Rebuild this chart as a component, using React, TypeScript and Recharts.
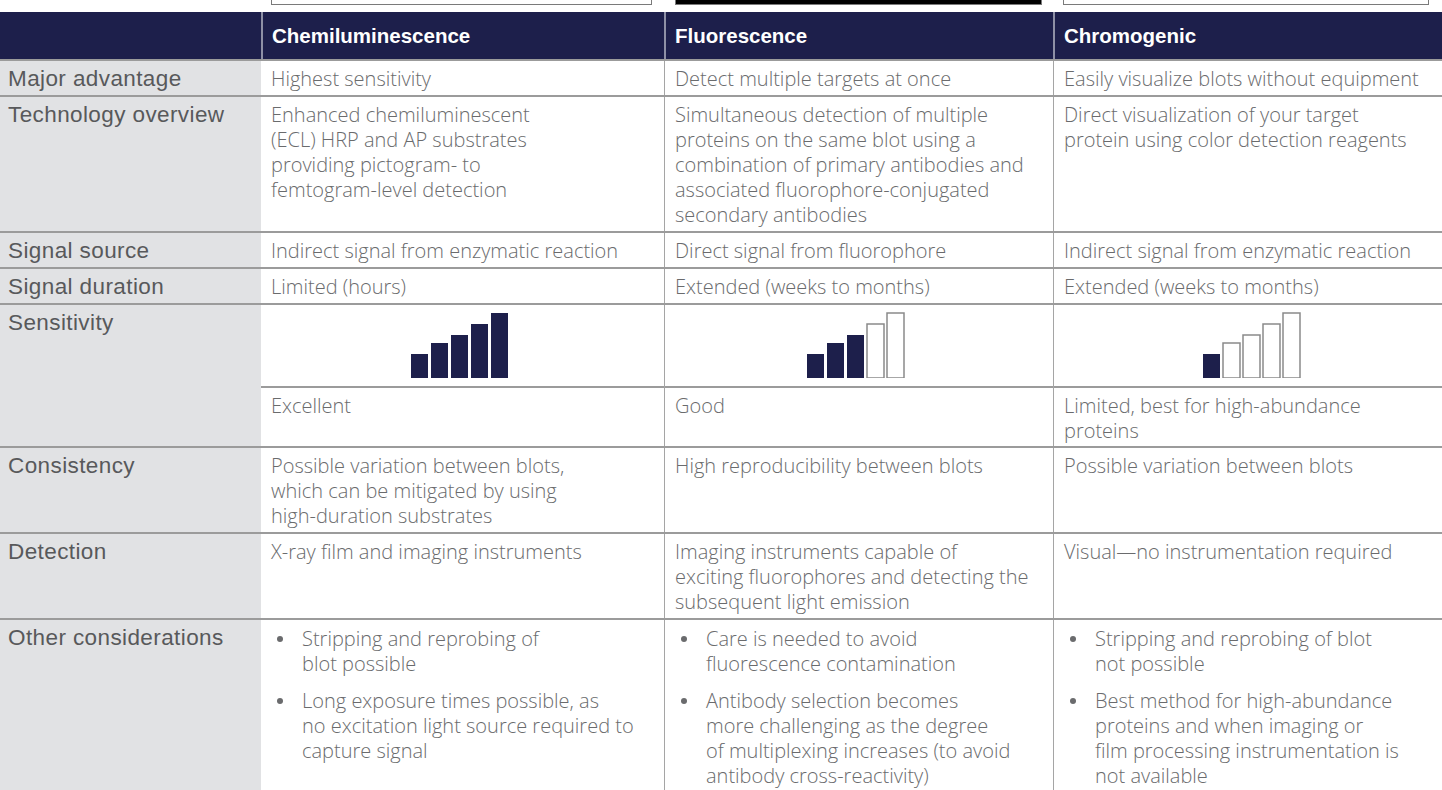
import React from 'react';
import { BarChart, Bar, Cell, XAxis, YAxis } from 'recharts';

const methods = ['Chemiluminescence', 'Fluorescence', 'Chromogenic'];

const majorAdvantage = [
  ['Highest sensitivity'],
  ['Detect multiple targets at once'],
  ['Easily visualize blots without equipment'],
];
const techOverview = [
  ['Enhanced chemiluminescent', '(ECL) HRP and AP substrates', 'providing pictogram- to', 'femtogram-level detection'],
  [
    'Simultaneous detection of multiple',
    'proteins on the same blot using a',
    'combination of primary antibodies and',
    'associated fluorophore-conjugated',
    'secondary antibodies',
  ],
  ['Direct visualization of your target', 'protein using color detection reagents'],
];
const signalSource = [
  ['Indirect signal from enzymatic reaction'],
  ['Direct signal from fluorophore'],
  ['Indirect signal from enzymatic reaction'],
];
const signalDuration = [['Limited (hours)'], ['Extended (weeks to months)'], ['Extended (weeks to months)']];

// sensitivity meter: 5 steps, relative heights
const meterSteps = [1, 2, 3, 4, 5];
const meterHeights = [24, 35, 43, 54, 65];
const sensitivityScore = [5, 3, 1];
const sensitivityText = [['Excellent'], ['Good'], ['Limited, best for high-abundance', 'proteins']];

const consistency = [
  ['Possible variation between blots,', 'which can be mitigated by using', 'high-duration substrates'],
  ['High reproducibility between blots'],
  ['Possible variation between blots'],
];
const detection = [
  ['X-ray film and imaging instruments'],
  ['Imaging instruments capable of', 'exciting fluorophores and detecting the', 'subsequent light emission'],
  ['Visual\u2014no instrumentation required'],
];
const otherConsiderations = [
  [
    ['Stripping and reprobing of', 'blot possible'],
    ['Long exposure times possible, as', 'no excitation light source required to', 'capture signal'],
  ],
  [
    ['Care is needed to avoid', 'fluorescence contamination'],
    ['Antibody selection becomes', 'more challenging as the degree', 'of multiplexing increases (to avoid', 'antibody cross-reactivity)'],
  ],
  [
    ['Stripping and reprobing of blot', 'not possible'],
    ['Best method for high-abundance', 'proteins and when imaging or', 'film processing instrumentation is', 'not available'],
  ],
];

const NAVY = '#1d1f4b';
const LINE = '#9b9b9b';
const LABEL_BG = '#e1e2e4';
const TEXT = '#6a6b6d';
const LABEL_W = 261;
const COL_W = [403, 389, 389];
const METER_SHIFT = [-8, -8, 6];

const labelStyle: React.CSSProperties = {
  width: LABEL_W,
  boxSizing: 'border-box',
  background: LABEL_BG,
  color: '#58595b',
  fontFamily: '"Liberation Sans", Arial, sans-serif',
  fontSize: 22.5,
  letterSpacing: 0.4,
  fontWeight: 400,
  padding: '5px 8px 4px 8px',
  whiteSpace: 'nowrap',
};

const cellStyle = (i: number): React.CSSProperties => ({
  width: COL_W[i],
  boxSizing: 'border-box',
  padding: '5px 10px 4px 10px',
  borderLeft: i > 0 ? '1px solid #a5a5a5' : 'none',
  color: TEXT,
  whiteSpace: 'nowrap',
});

function Lines({ lines }: { lines: string[] }) {
  return (
    <>
      {lines.map((l, i) => (
        <div key={i}>{l}</div>
      ))}
    </>
  );
}

function Row({ label, cells }: { label: string; cells: string[][] }) {
  return (
    <div style={{ display: 'flex', borderTop: `2px solid ${LINE}` }}>
      <div style={labelStyle}>{label}</div>
      {cells.map((c, i) => (
        <div key={i} style={cellStyle(i)}>
          <Lines lines={c} />
        </div>
      ))}
    </div>
  );
}

function Meter({ score }: { score: number }) {
  const data = meterSteps.map((s, i) => ({ step: s, h: meterHeights[i] }));
  return (
    <BarChart width={100} height={66} data={data} margin={{ top: 1, right: 0, bottom: 0, left: 0 }}>
      <XAxis dataKey="step" hide />
      <YAxis hide domain={[0, 65]} />
      <Bar dataKey="h" barSize={17} isAnimationActive={false}>
        {data.map((d) => (
          <Cell
            key={d.step}
            fill={d.step <= score ? NAVY : '#ffffff'}
            stroke={d.step <= score ? 'none' : '#8a8a8a'}
            strokeWidth={1.5}
          />
        ))}
      </Bar>
    </BarChart>
  );
}

export default function App() {
  const tabs = [
    { left: 271, width: 381, dark: false },
    { left: 675, width: 367, dark: true },
    { left: 1063, width: 366, dark: false },
  ];
  return (
    <div
      style={{
        position: 'relative',
        width: 1442,
        height: 790,
        overflow: 'hidden',
        background: '#ffffff',
        fontFamily: '"Open Sans", Roboto, sans-serif',
        fontWeight: 300,
        fontSize: 20,
        lineHeight: '25px',
      }}
    >
      <style>{'body{margin:0}'}</style>
      {tabs.map((t, i) => (
        <div
          key={i}
          style={{
            position: 'absolute',
            top: -20,
            left: t.left,
            width: t.width,
            height: 25,
            boxSizing: 'border-box',
            border: '1px solid #7a7a7a',
            background: t.dark ? '#000000' : '#ffffff',
          }}
        />
      ))}
      <div style={{ position: 'absolute', top: 12, left: 0, width: 1442 }}>
        {/* header */}
        <div
          style={{
            display: 'flex',
            height: 47,
            background: NAVY,
            color: '#ffffff',
            fontFamily: '"Liberation Sans", Arial, sans-serif',
            fontWeight: 700,
            fontSize: 20.5,
          }}
        >
          <div style={{ width: LABEL_W }} />
          {methods.map((m, i) => (
            <div
              key={m}
              style={{
                width: COL_W[i],
                boxSizing: 'border-box',
                borderLeft: '2px solid #8e90a6',
                padding: '0 9px',
                display: 'flex',
                alignItems: 'center',
              }}
            >
              {m}
            </div>
          ))}
        </div>
        <Row label="Major advantage" cells={majorAdvantage} />
        <Row label="Technology overview" cells={techOverview} />
        <Row label="Signal source" cells={signalSource} />
        <Row label="Signal duration" cells={signalDuration} />
        {/* sensitivity */}
        <div style={{ display: 'flex', borderTop: `2px solid ${LINE}` }}>
          <div style={labelStyle}>Sensitivity</div>
          {sensitivityScore.map((s, i) => (
            <div key={i} style={{ ...cellStyle(i), padding: 0 }}>
              <div
                style={{
                  display: 'flex',
                  justifyContent: 'center',
                  padding: '7px 0 8px 0',
                  marginLeft: METER_SHIFT[i],
                }}
              >
                <Meter score={s} />
              </div>
              <div style={{ borderTop: `2px solid ${LINE}`, padding: '5px 10px 3px 10px' }}>
                <Lines lines={sensitivityText[i]} />
              </div>
            </div>
          ))}
        </div>
        <Row label="Consistency" cells={consistency} />
        <Row label="Detection" cells={detection} />
        {/* other considerations */}
        <div style={{ display: 'flex', borderTop: `2px solid ${LINE}`, height: 220 }}>
          <div style={labelStyle}>Other considerations</div>
          {otherConsiderations.map((bullets, i) => (
            <div key={i} style={{ ...cellStyle(i), paddingTop: 6 }}>
              {bullets.map((b, j) => (
                <div key={j} style={{ position: 'relative', paddingLeft: 31, marginBottom: 12 }}>
                  <span
                    style={{
                      position: 'absolute',
                      left: 6,
                      top: 10,
                      width: 6,
                      height: 6,
                      borderRadius: 3,
                      background: TEXT,
                    }}
                  />
                  <Lines lines={b} />
                </div>
              ))}
            </div>
          ))}
        </div>
      </div>
    </div>
  );
}
